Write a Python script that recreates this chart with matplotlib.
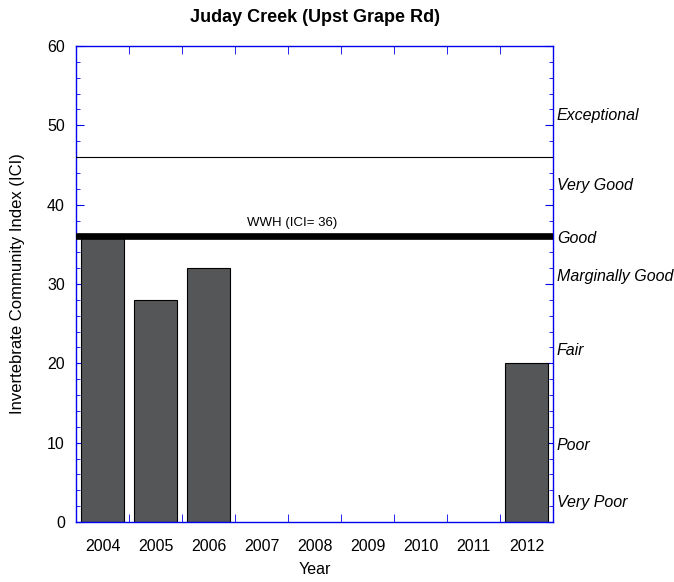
import matplotlib
matplotlib.use("Agg")
import matplotlib.pyplot as plt
import numpy as np
from matplotlib.ticker import FixedLocator, MultipleLocator

plt.rcParams["font.family"] = ["Liberation Sans", "DejaVu Sans"]

years = [2004, 2005, 2006, 2007, 2008, 2009, 2010, 2011, 2012]
ici = [36, 28, 32, np.nan, np.nan, np.nan, np.nan, np.nan, 20]

wwh_value = 36
exceptional_line = 46

bands = ["Exceptional", "Very Good", "Good", "Marginally Good", "Fair", "Poor", "Very Poor"]
band_y = [51.3, 42.4, 35.7, 31.0, 21.6, 9.6, 2.4]

axis_blue = "#0000ee"

fig = plt.figure(figsize=(6.74, 5.82), dpi=100)
ax = fig.add_axes([0.1128, 0.1031, 0.7077, 0.8179])

ax.bar(years, ici, width=0.8, color="#555658", edgecolor="black", linewidth=0.8, zorder=2)
ax.axhline(exceptional_line, color="black", linewidth=0.8, zorder=3)
ax.axhline(wwh_value, color="black", linewidth=4.8, zorder=3)
ax.text(2007.58, 37.3, f"WWH (ICI= {wwh_value})", ha="center", va="baseline", fontsize=9.5)

for name, y in zip(bands, band_y):
    ax.text(2012.57, y, name, ha="left", va="center", style="italic", fontsize=11.5)

ax.set_xlim(2003.5, 2012.5)
ax.set_ylim(0, 60)

ax.set_xticks(years)
ax.set_xticklabels([str(y) for y in years])
ax.xaxis.set_minor_locator(FixedLocator([y + 0.5 for y in years[:-1]]))
ax.tick_params(axis="x", which="major", length=0, pad=12, labelsize=11.5)
ax.tick_params(axis="x", which="minor", direction="in", length=6, top=True, bottom=True, color=axis_blue)

ax.yaxis.set_major_locator(MultipleLocator(10))
ax.yaxis.set_minor_locator(MultipleLocator(2))
ax.tick_params(axis="y", which="major", direction="in", length=6, pad=8,
               left=True, right=True, color=axis_blue, labelsize=11.5)
ax.tick_params(axis="y", which="minor", direction="in", length=3, left=True, right=True, color=axis_blue)

for s in ax.spines.values():
    s.set_color(axis_blue)
    s.set_linewidth(1)

ax.set_title("Juday Creek (Upst Grape Rd)", fontsize=13, fontweight="bold", pad=17)
ax.set_xlabel("Year", fontsize=11.5, labelpad=6)
ax.set_ylabel("Invertebrate Community Index (ICI)", fontsize=12, labelpad=16)

fig.savefig("out.png", dpi=100)
